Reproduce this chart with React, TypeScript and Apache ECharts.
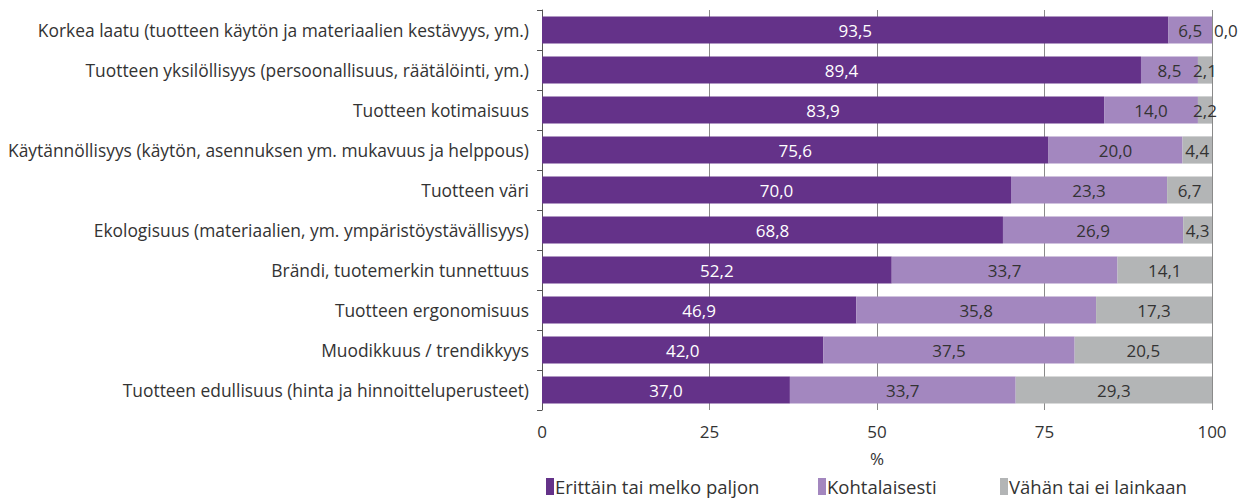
import React, { useEffect, useRef } from "react";
import * as echarts from "echarts";

const categories = [
  "Korkea laatu (tuotteen käytön ja materiaalien kestävyys, ym.)",
  "Tuotteen yksilöllisyys (persoonallisuus, räätälöinti, ym.)",
  "Tuotteen kotimaisuus",
  "Käytännöllisyys (käytön, asennuksen ym. mukavuus ja helppous)",
  "Tuotteen väri",
  "Ekologisuus (materiaalien, ym. ympäristöystävällisyys)",
  "Brändi, tuotemerkin tunnettuus",
  "Tuotteen ergonomisuus",
  "Muodikkuus / trendikkyys",
  "Tuotteen edullisuus (hinta ja hinnoitteluperusteet)",
];
const seriesNames = ["Erittäin tai melko paljon", "Kohtalaisesti", "Vähän tai ei lainkaan"];
const paljon = [93.5, 89.4, 83.9, 75.6, 70.0, 68.8, 52.2, 46.9, 42.0, 37.0];
const kohtalaisesti = [6.5, 8.5, 14.0, 20.0, 23.3, 26.9, 33.7, 35.8, 37.5, 33.7];
const vahan = [0.0, 2.1, 2.2, 4.4, 6.7, 4.3, 14.1, 17.3, 20.5, 29.3];
const xTicks = [0, 25, 50, 75, 100];

const colors = ["#643289", "#a387bf", "#b3b5b6"];
const FONT = "'Open Sans', 'Noto Sans', sans-serif";
const FS = 17;

const fmt = (v: number) => v.toFixed(1).replace(".", ",");

export default function App() {
  const ref = useRef<HTMLDivElement>(null);
  useEffect(() => {
    if (!ref.current) return;
    const chart = echarts.init(ref.current, null, { renderer: "svg" });
    const values = [paljon, kohtalaisesti, vahan];
    const series = values.map((arr, si) => ({
      name: seriesNames[si],
      type: "bar",
      stack: "total",
      barCategoryGap: "32%",
      itemStyle: { color: colors[si] },
      label: {
        show: true,
        position: "inside",
        color: si === 0 ? "#ffffff" : "#333333",
        fontSize: FS,
        fontFamily: FONT,
        formatter: (p: any) => fmt(p.value),
      },
      data: arr.map((v) =>
        v === 0
          ? { value: v, label: { position: "right", distance: 2 } }
          : v
      ),
    }));
    const legendLefts = [546, 818, 1000];
    chart.setOption({
      animation: false,
      textStyle: { fontFamily: FONT },
      grid: { left: 542, right: 33, top: 10, bottom: 91, containLabel: false },
      legend: seriesNames.map((n, i) => ({
        data: [n],
        left: legendLefts[i],
        top: 477,
        icon: "rect",
        itemWidth: 8,
        itemHeight: 17,
        itemGap: 0,
        padding: 0,
        textStyle: { fontSize: 18.5, color: "#333", fontFamily: FONT, padding: [0, 0, 0, -4] },
      })),
      xAxis: {
        type: "value",
        min: 0,
        max: 100,
        interval: 25,
        name: "%",
        nameLocation: "middle",
        nameGap: 40,
        nameTextStyle: { fontSize: FS, color: "#333", fontFamily: FONT },
        axisLine: { show: false },
        axisTick: { show: false },
        axisLabel: {
          fontSize: FS,
          color: "#333",
          margin: 13,
          fontFamily: FONT,
          formatter: (v: number) => (xTicks.includes(v) ? String(v) : ""),
        },
        splitLine: { show: true, lineStyle: { color: "#8a8a8a", width: 1 } },
      },
      yAxis: {
        type: "category",
        data: categories,
        inverse: true,
        axisLine: { show: true, lineStyle: { color: "#555", width: 1 } },
        axisTick: { show: true, length: 5, lineStyle: { color: "#555" } },
        axisLabel: { fontSize: 17.4, color: "#333", margin: 13, fontFamily: FONT },
      },
      series,
    });
    return () => chart.dispose();
  }, []);
  return (
    <div
      ref={ref}
      style={{ position: "absolute", left: 0, top: 0, width: 1245, height: 501 }}
    />
  );
}
